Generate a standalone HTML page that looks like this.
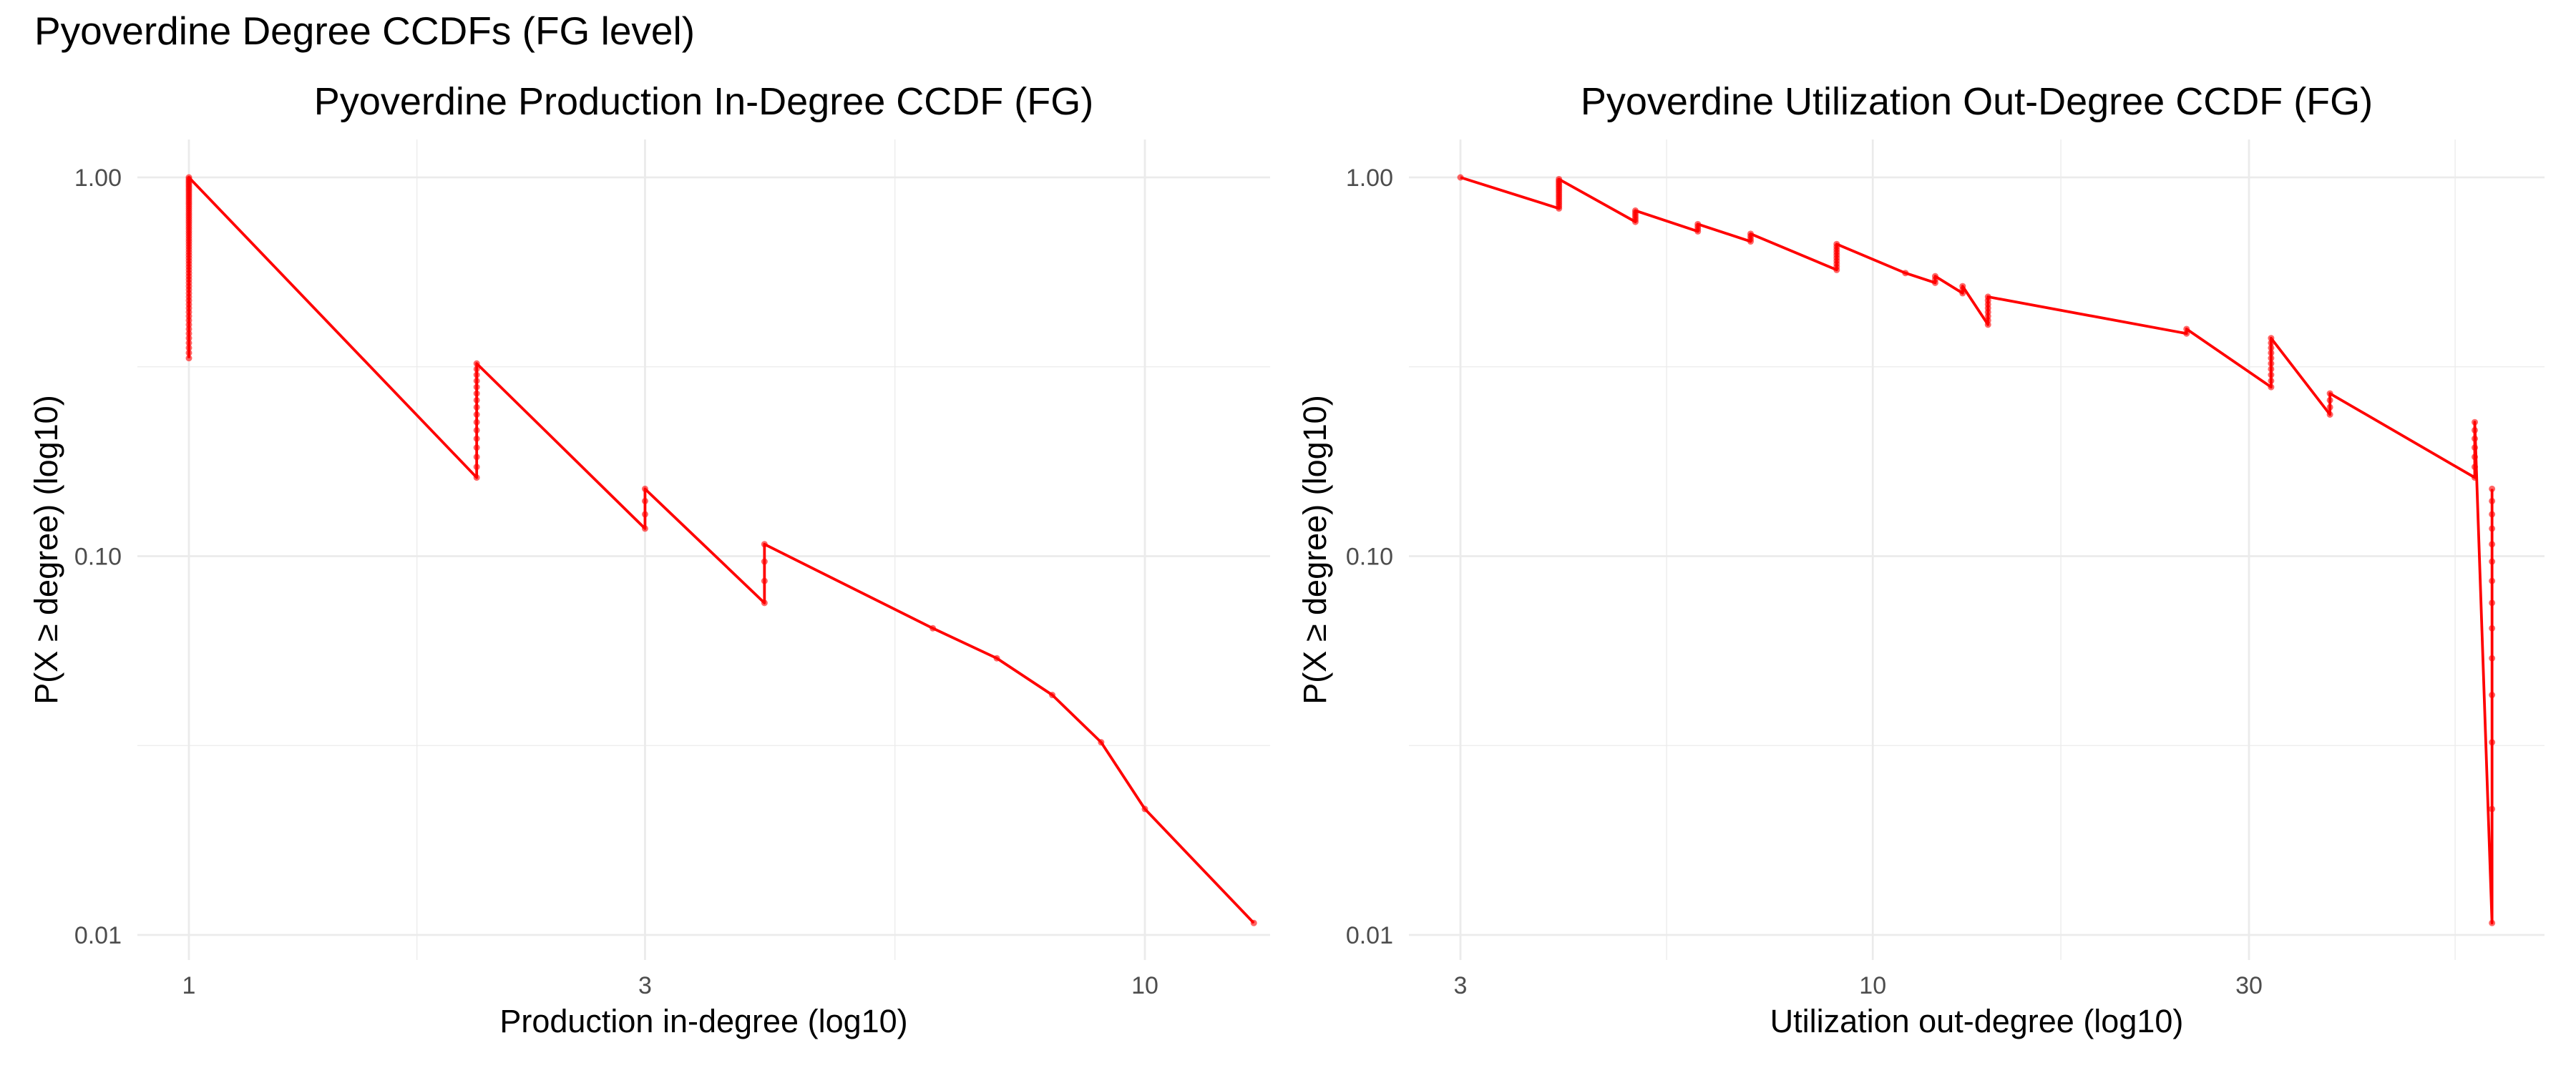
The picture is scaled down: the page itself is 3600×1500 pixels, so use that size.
<!DOCTYPE html>
<html><head><meta charset="utf-8"><style>
html,body{margin:0;padding:0;background:#fff;}
svg{display:block;font-family:"Liberation Sans",Arial,sans-serif;}
</style></head><body>
<svg id="chart" width="3600" height="1500" viewBox="0 0 3600 1500" xmlns="http://www.w3.org/2000/svg">
<rect x="0" y="0" width="3600" height="1500" fill="#fff"/>
<text x="48" y="62" font-size="55" fill="#000">Pyoverdine Degree CCDFs (FG level)</text>
<g id="left"></g>
<g id="right"></g>
</svg>
<script>
// Left panel data: degree values and number of samples with that degree
const leftDegrees = [1, 2, 3, 4, 6, 7, 8, 9, 10, 13];
const leftCounts = [63, 16, 4, 4, 1, 1, 1, 1, 1, 1];
const leftXTicks = [1, 3, 10];
const leftXTickLabels = ["1", "3", "10"];
// Right panel data
const rightDegrees = [3, 4, 5, 6, 7, 9, 11, 12, 13, 14, 25, 32, 38, 58, 61];
const rightCounts = [1, 16, 6, 4, 4, 10, 1, 3, 3, 8, 2, 10, 4, 7, 14];
const rightXTicks = [3, 10, 30];
const rightXTickLabels = ["3", "10", "30"];
const yTicks = [1, 0.1, 0.01];
const yTickLabels = ["1.00", "0.10", "0.01"];

const NS = "http://www.w3.org/2000/svg";
function mk(parent, tag, attrs) {
  const e = document.createElementNS(NS, tag);
  for (const k in attrs) e.setAttribute(k, attrs[k]);
  parent.appendChild(e);
  return e;
}
function yScale(p) { return 248 + (-Math.log10(p)) * 529.5; }
const panelTop = 195, panelBottom = 1342;

function drawPanel(g, cfg) {
  const xs = v => cfg.x0 + Math.log10(v / cfg.base) * cfg.perDecade;
  cfg.xMinor.forEach(v => {
    const l = mk(g, "line", {x1: xs(v), x2: xs(v), y1: panelTop, y2: panelBottom, stroke: "#ebebeb", "stroke-width": 1.3});
    
    
  });
  [Math.sqrt(0.1), Math.sqrt(0.001)].forEach(v => {
    const l = mk(g, "line", {x1: cfg.left, x2: cfg.right, y1: yScale(v), y2: yScale(v), stroke: "#ebebeb", "stroke-width": 1.3});
    
    
  });
  yTicks.forEach((v, i) => {
    const l = mk(g, "line", {x1: cfg.left, x2: cfg.right, y1: yScale(v), y2: yScale(v), stroke: "#ebebeb", "stroke-width": 2.8});
    
    
    const t = mk(g, "text", {x: cfg.left - 22, y: yScale(v) + 12, "font-size": 34, fill: "#4d4d4d", "text-anchor": "end"});
    t.textContent = yTickLabels[i];
    
    
  });
  cfg.xTicks.forEach((v, i) => {
    const l = mk(g, "line", {x1: xs(v), x2: xs(v), y1: panelTop, y2: panelBottom, stroke: "#ebebeb", "stroke-width": 2.8});
    
    
    const t = mk(g, "text", {x: xs(v), y: 1389, "font-size": 34, fill: "#4d4d4d", "text-anchor": "middle"});
    t.textContent = cfg.xTickLabels[i];
    
    
  });
  const cx = (cfg.left + cfg.right) / 2;
  const st = mk(g, "text", {x: cx, y: 160, "font-size": 54, fill: "#000", "text-anchor": "middle"});
  st.textContent = cfg.title;
  
  
  const xt = mk(g, "text", {x: cx, y: 1443, "font-size": 45, fill: "#000", "text-anchor": "middle"});
  xt.textContent = cfg.xTitle;
  
  
  const yc = (panelTop + panelBottom) / 2;
  const bx = cfg.yTitleX;
  const yt = mk(g, "text", {x: bx, y: yc, "font-size": 45, fill: "#000", "text-anchor": "middle", transform: `rotate(-90 ${bx} ${yc})`});
  yt.textContent = "P(X \u2265 degree) (log10)";
  
  
  const N = cfg.counts.reduce((a, b) => a + b, 0);
  const pts = [];
  let c = 0;
  cfg.degrees.forEach((d, i) => {
    const n = cfg.counts[i];
    for (let k = N - c - n + 1; k <= N - c; k++) pts.push([d, k / N]);
    c += n;
  });
  const path = pts.map((p, i) => (i ? "L" : "M") + xs(p[0]).toFixed(2) + "," + yScale(p[1]).toFixed(2)).join(" ");
  const line = mk(g, "path", {d: path, fill: "none", stroke: "#ff0000", "stroke-width": 3.8, "stroke-linejoin": "round"});
  
  
  pts.forEach(p => {
    const ci = mk(g, "circle", {cx: xs(p[0]), cy: yScale(p[1]), r: 4.5, fill: "#ff0000", "fill-opacity": 0.6});
    
    
  });
}

drawPanel(document.getElementById("left"), {
  left: 192, right: 1775, x0: 264, base: 1, perDecade: 1336, yTitleX: 80,
  xTicks: leftXTicks, xTickLabels: leftXTickLabels, xMinor: [Math.sqrt(3), Math.sqrt(30)],
  degrees: leftDegrees, counts: leftCounts,
  title: "Pyoverdine Production In-Degree CCDF (FG)", xTitle: "Production in-degree (log10)"
});
drawPanel(document.getElementById("right"), {
  left: 1969, right: 3556, x0: 2041, base: 3, perDecade: 1102, yTitleX: 1853,
  xTicks: rightXTicks, xTickLabels: rightXTickLabels, xMinor: [Math.sqrt(30), Math.sqrt(300), Math.sqrt(3000)],
  degrees: rightDegrees, counts: rightCounts,
  title: "Pyoverdine Utilization Out-Degree CCDF (FG)", xTitle: "Utilization out-degree (log10)"
});
</script>
</body></html>
